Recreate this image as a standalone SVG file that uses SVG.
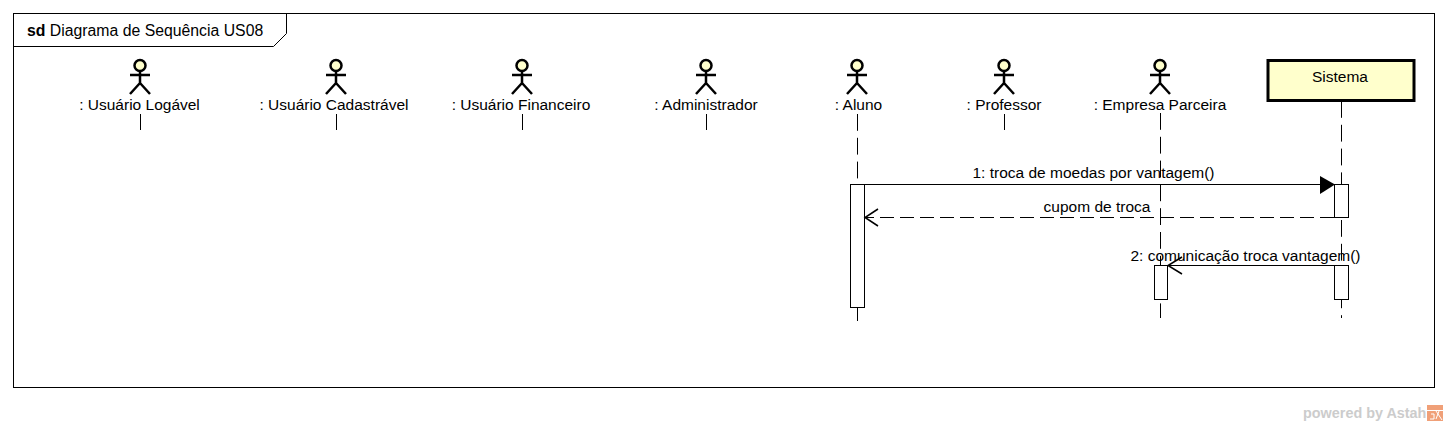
<svg xmlns="http://www.w3.org/2000/svg" width="1448" height="426" viewBox="0 0 1448 426">
<style>
text{font-family:"Liberation Sans",Arial,sans-serif;font-size:15.5px;fill:#000}
.m{text-anchor:middle}
.fr{fill:none;stroke:#000;stroke-width:1}
.act{fill:none;stroke:#000;stroke-width:2.500}
.hd{fill:#ffffcc;stroke:#000;stroke-width:2.500}
.ll{fill:none;stroke:#000;stroke-width:1;stroke-dasharray:16.800 7}
.bar{fill:#fff;stroke:#000;stroke-width:1}
.msg{fill:none;stroke:#000;stroke-width:1}
.open{fill:none;stroke:#000;stroke-width:1.500}
</style>
<defs>
<g id="stick">
<circle class="hd" cx="0" cy="5.500" r="5.500"/>
<path class="act" d="M0 11V23M-10 15H10M-10 34L0 23L10 34"/>
</g>
</defs>
<rect width="1448" height="426" fill="#fff"/>
<g id="frame">
<rect class="fr" x="13.500" y="13.500" width="1421" height="374"/>
<path class="fr" d="M13.500 46.500H273.500L286.500 33.500V13.500"/>
<text x="27" y="36" style="font-size:15.800px"><tspan font-weight="bold">sd</tspan> Diagrama de Sequência US08</text>
</g>
<g id="connectors">
<path class="ll" d="M140.500 114V130"/>
<path class="ll" d="M336.500 114V130"/>
<path class="ll" d="M522.500 114V130"/>
<path class="ll" d="M706.500 114V130"/>
<path class="ll" d="M857.500 114V321"/>
<path class="ll" d="M1004.500 114V130"/>
<path class="ll" d="M1160.500 113V318"/>
<path class="ll" d="M1341.500 101V318"/>
</g>
<g id="actor-logavel"><use href="#stick" x="140" y="60"/><text class="m" x="139.500" y="110">: Usuário Logável</text></g>
<g id="actor-cadastravel"><use href="#stick" x="336" y="60"/><text class="m" x="334" y="110">: Usuário Cadastrável</text></g>
<g id="actor-financeiro"><use href="#stick" x="522" y="60"/><text class="m" x="521" y="110">: Usuário Financeiro</text></g>
<g id="actor-administrador"><use href="#stick" x="706" y="60"/><text class="m" x="706" y="110">: Administrador</text></g>
<g id="actor-aluno"><use href="#stick" x="857" y="60"/><text class="m" x="858.500" y="110">: Aluno</text></g>
<g id="actor-professor"><use href="#stick" x="1004" y="60"/><text class="m" x="1004" y="110">: Professor</text></g>
<g id="actor-empresa"><use href="#stick" x="1160" y="60"/><text class="m" x="1160" y="110">: Empresa Parceira</text></g>
<g id="sistema">
<rect x="1268" y="60.500" width="146" height="40" fill="#ffffcc" stroke="#000" stroke-width="3"/>
<text class="m" x="1340" y="82">Sistema</text>
</g>
<g id="activations">
<rect class="bar" x="850.500" y="184.500" width="14" height="123"/>
<rect class="bar" x="1334.500" y="184.500" width="14" height="33"/>
<rect class="bar" x="1334.500" y="265.500" width="14" height="34"/>
<rect class="bar" x="1154.500" y="265.500" width="13" height="34"/>
</g>
<g id="messages">
<path class="msg" d="M864.500 184.500H1320"/>
<path d="M1320 176V194L1335 184.500Z" fill="#000"/>
<text class="m" x="1093.500" y="178">1: troca de moedas por vantagem()</text>
<path class="msg" stroke-dasharray="14 6" d="M1334 217.500H865"/>
<path class="open" d="M878 209L865 217.500L878 226"/>
<text class="m" x="1097" y="212">cupom de troca</text>
<path class="msg" d="M1334 265.500H1168"/>
<path class="open" d="M1182 257L1168 265.500L1182 274"/>
<text class="m" x="1245.500" y="261">2: comunicação troca vantagem()</text>
</g>
<g id="watermark">
<text x="1303" y="418" font-weight="bold" style="fill:#cccccc;font-size:14.400px">powered by Astah</text>
<rect x="1427" y="405" width="16" height="16" fill="#f0a078"/>
<path d="M1427 410.500H1443M1431 414H1434V419H1430M1436 411L1442 420M1439 411L1436 419" fill="none" stroke="#fff" stroke-width="1"/>
</g>
</svg>
